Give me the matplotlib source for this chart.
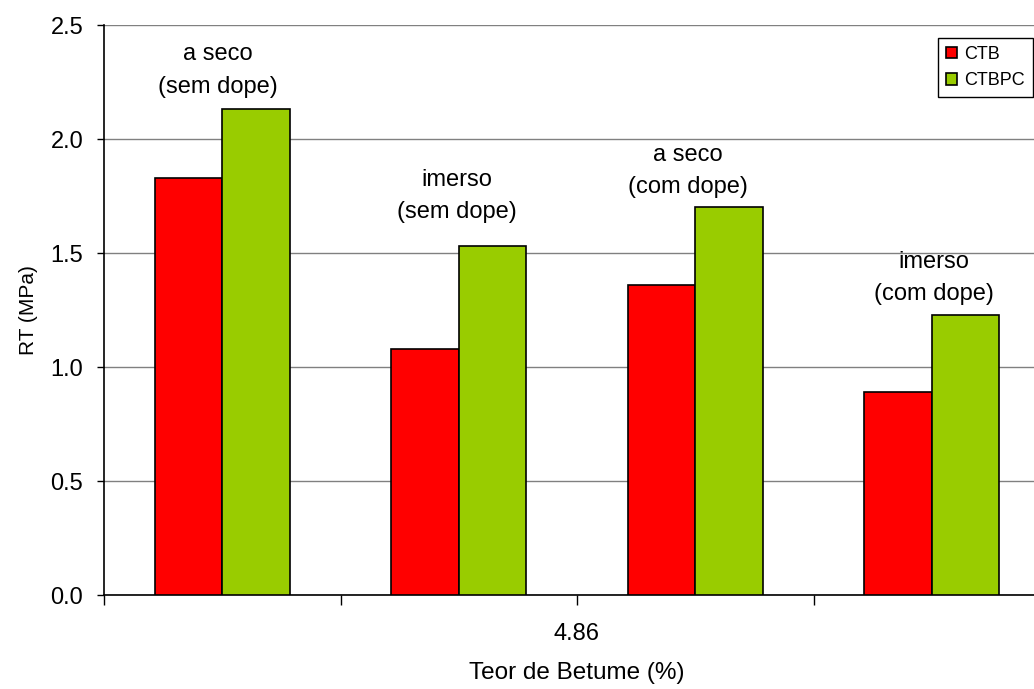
import matplotlib
matplotlib.use("Agg")
import matplotlib.pyplot as plt
from matplotlib.patches import Patch
import numpy as np

# Tensile strength (RT) by test condition, bitumen content 4.86 %
conditions = ["a seco\n(sem dope)", "imerso\n(sem dope)", "a seco\n(com dope)", "imerso\n(com dope)"]
ctb = [1.83, 1.08, 1.36, 0.89]
ctbpc = [2.13, 1.53, 1.70, 1.23]
series_names = ["CTB", "CTBPC"]
x_label_text = "4.86"

plt.rcParams["font.family"] = ["Liberation Sans", "DejaVu Sans"]

fig = plt.figure(figsize=(10.34, 6.89), dpi=100)
ax = fig.add_axes([104 / 1034, 94 / 689, 946 / 1034, 570 / 689])

red = "#ff0000"
green = "#99cc00"
n = len(conditions)
centers = np.arange(n) + 0.5
w = 0.285

ax.bar(centers - w / 2, ctb, width=w, color=red, edgecolor="black", linewidth=1.2, zorder=3)
ax.bar(centers + w / 2, ctbpc, width=w, color=green, edgecolor="black", linewidth=1.2, zorder=3)

# condition labels above each pair of bars
label_y = [2.30, 1.75, 1.86, 1.39]
label_dx = [-0.02, -0.01, -0.03, 0.01]
for c, dx, ly, txt in zip(centers, label_dx, label_y, conditions):
    ax.text(c + dx, ly, txt, ha="center", va="center", fontsize=17, linespacing=1.6)

ax.set_xlim(0, n)
ax.set_ylim(0, 2.5)
ax.set_yticks(np.arange(0, 2.51, 0.5))
ax.set_yticklabels([f"{v:.1f}" for v in np.arange(0, 2.51, 0.5)])
ax.yaxis.grid(True, color="#808080", linewidth=1.0, zorder=0)
ax.set_axisbelow(True)

ax.set_xticks(np.arange(0, n + 1))
ax.set_xticklabels([])
ax.tick_params(axis="x", direction="out", length=7, width=1, color="black")
ax.tick_params(axis="y", direction="out", length=5, width=1, color="black", labelsize=17, pad=10)

for s in ["top", "right"]:
    ax.spines[s].set_visible(False)
ax.spines["left"].set_linewidth(1.2)
ax.spines["bottom"].set_linewidth(1.2)

ax.text(n / 2, -0.17, x_label_text, ha="center", va="center", fontsize=17)
ax.set_xlabel("Teor de Betume (%)", fontsize=17.5, labelpad=38)
fig.text(28 / 1034, 1 - 310 / 689, "RT (MPa)", rotation=90, ha="center", va="center", fontsize=15)

handles = [Patch(facecolor=red, edgecolor="black", linewidth=1.2),
           Patch(facecolor=green, edgecolor="black", linewidth=1.2)]
leg = fig.legend(handles, series_names, loc="upper left", bbox_to_anchor=(938 / 1034, 1 - 38 / 689),
                 borderaxespad=0, fontsize=13, frameon=True, fancybox=False,
                 edgecolor="black", framealpha=1, handlelength=0.6, handleheight=0.6,
                 handletextpad=0.4, labelspacing=0.5, borderpad=0.45)
leg.get_frame().set_linewidth(1.0)

fig.savefig("out.png", dpi=100)
